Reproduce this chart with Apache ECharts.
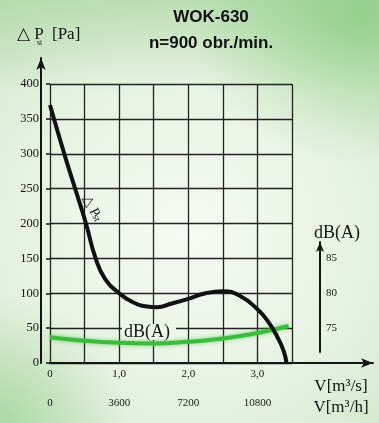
<!DOCTYPE html>
<html>
<head>
<meta charset="utf-8">
<script src="https://cdn.jsdelivr.net/npm/echarts@6/dist/echarts.min.js"></script>
<style>
  html, body { margin: 0; padding: 0; }
  body {
    width: 379px; height: 423px;
    background:
      radial-gradient(ellipse 60% 45% at 95% 5%, rgba(110,195,100,0.5), rgba(110,195,100,0) 75%),
      radial-gradient(ellipse 45% 40% at 0% 100%, rgba(120,195,110,0.45), rgba(120,195,110,0) 75%),
      linear-gradient(to bottom, rgba(150,205,140,0.45) 0%, rgba(150,205,140,0) 22%),
      radial-gradient(ellipse 80% 70% at 50% 55%, #f6faf4 0%, #e6f2e1 60%, #cfe6c9 100%);
  }
  #chart { width: 379px; height: 423px; }
</style>
</head>
<body>
<div id="chart"></div>
<script>
// pressure curve, m3/s -> Pa
const flowPa = [0, 0.2, 0.36, 0.52, 0.66, 0.8, 1.0, 1.2, 1.4, 1.55, 1.75, 2.0, 2.25, 2.5, 2.75, 3.0, 3.15, 3.29, 3.38, 3.42]
const pressure = [370, 302, 251, 200, 150, 120, 100, 87, 81, 80, 85, 92, 100, 103, 96, 77, 60, 37, 17, 0]

// noise curve, m3/s -> dB(A)
const flowDb = [0, 0.5, 1.0, 1.5, 2.0, 2.5, 3.0, 3.45]
const noise = [73.7, 73.2, 72.9, 72.8, 73.05, 73.5, 74.3, 75.3]

// tick labels
const flowSecLabels = ['0', '1,0', '2,0', '3,0']
const flowHourLabels = ['0', '3600', '7200', '10800']
const dbTicks = [75, 80, 85]

const serif = 'Liberation Serif'
const sans = 'Liberation Sans'
const ink = '#151515'

const zip = (xs, ys) => xs.map((x, i) => [x, ys[i]])

const arrowLine = { show: true, onZero: false, symbol: ['none', 'arrow'], symbolSize: [7, 12], lineStyle: { color: ink, width: 2 } }
const off = { show: false }

const chart = echarts.init(document.getElementById('chart'))
chart.setOption({
  backgroundColor: 'transparent',
  animation: false,
  grid: [
    { left: 50, top: 84, width: 242, height: 279 }, // main
    { left: 41, top: 58, width: 10, height: 305 }, // left arrow
    { left: 50, top: 84, width: 323, height: 279 }, // bottom arrow
    { left: 320, top: 242, width: 10, height: 110 } // dB arrow
  ],
  xAxis: [
    {
      gridIndex: 0, type: 'value', min: 0, max: 3.5, interval: 0.5,
      axisLine: off, axisTick: off,
      splitLine: { lineStyle: { color: '#222', width: 1.3 } },
      axisLabel: {
        customValues: [0, 1, 2, 3], formatter: v => flowSecLabels[Math.round(v)],
        margin: 6, fontFamily: serif, fontSize: 11, color: ink
      }
    },
    {
      gridIndex: 0, type: 'value', min: 0, max: 3.5, interval: 0.5, position: 'bottom', offset: 29,
      axisLine: off, axisTick: off, splitLine: off,
      axisLabel: {
        customValues: [0, 1, 2, 3], formatter: v => flowHourLabels[Math.round(v)],
        margin: 6, fontFamily: serif, fontSize: 11, color: ink
      }
    },
    { gridIndex: 1, type: 'value', show: false },
    {
      gridIndex: 2, type: 'value', min: 0, max: 1,
      axisLine: arrowLine, axisTick: off, axisLabel: off, splitLine: off
    },
    { gridIndex: 3, type: 'value', show: false }
  ],
  yAxis: [
    {
      gridIndex: 0, type: 'value', min: 0, max: 400, interval: 50, offset: 9,
      axisLine: off,
      axisTick: { show: true, length: 4, lineStyle: { color: ink, width: 1.5 } },
      splitLine: { lineStyle: { color: '#222', width: 1.3 } },
      axisLabel: { margin: 2, fontFamily: serif, fontSize: 12.5, color: ink }
    },
    {
      gridIndex: 0, type: 'value', position: 'right', min: 70, max: 110, interval: 5, offset: 28,
      axisLine: off, splitLine: off,
      axisTick: { show: true, customValues: dbTicks, length: 3, lineStyle: { color: ink, width: 1 } },
      axisLabel: { customValues: dbTicks, margin: 6, fontFamily: serif, fontSize: 11, color: ink }
    },
    {
      gridIndex: 1, type: 'value', min: 0, max: 1,
      axisLine: arrowLine, axisTick: off, axisLabel: off, splitLine: off
    },
    { gridIndex: 2, type: 'value', show: false },
    {
      gridIndex: 3, type: 'value', min: 0, max: 1,
      axisLine: { ...arrowLine, symbolSize: [6, 10] }, axisTick: off, axisLabel: off, splitLine: off
    }
  ],
  series: [
    {
      type: 'line', xAxisIndex: 0, yAxisIndex: 1, z: 4,
      data: zip(flowDb, noise), smooth: true, showSymbol: false,
      lineStyle: { color: '#3cbc3c', width: 4, shadowBlur: 4, shadowColor: 'rgba(60,200,60,0.7)' }
    },
    {
      type: 'line', xAxisIndex: 0, yAxisIndex: 0, z: 5,
      data: zip(flowPa, pressure), smooth: 0.5, showSymbol: false,
      lineStyle: { color: '#111', width: 4 }
    }
  ],
  graphic: [
    { type: 'text', x: 211, y: 17, style: { text: 'WOK-630', font: 'bold 17px ' + sans, fill: '#111', align: 'center', verticalAlign: 'middle' } },
    { type: 'text', x: 211, y: 43, style: { text: 'n=900 obr./min.', font: 'bold 17px ' + sans, fill: '#111', align: 'center', verticalAlign: 'middle' } },
    // left axis name
    { type: 'text', x: 17, y: 35, style: { text: '△ P', font: '17px ' + serif, fill: ink, verticalAlign: 'middle' } },
    { type: 'text', x: 37, y: 43, style: { text: 'st', font: '8px ' + serif, fill: ink, verticalAlign: 'middle' } },
    { type: 'text', x: 52, y: 35, style: { text: '[Pa]', font: '17px ' + serif, fill: ink, verticalAlign: 'middle' } },
    // right axis name
    { type: 'text', x: 337, y: 233, style: { text: 'dB(A)', font: '18px ' + serif, fill: ink, align: 'center', verticalAlign: 'middle' } },
    // flow units
    { type: 'text', x: 341, y: 387, style: { text: 'V[m³/s]', font: '17px ' + serif, fill: ink, align: 'center', verticalAlign: 'middle' } },
    { type: 'text', x: 341, y: 408, style: { text: 'V[m³/h]', font: '17px ' + serif, fill: ink, align: 'center', verticalAlign: 'middle' } },
    // curve labels
    {
      type: 'text', x: 91, y: 206, rotation: -1.1, z: 6,
      style: { text: '△ P', font: '14px ' + serif, fill: ink, align: 'center', verticalAlign: 'middle' }
    },
    {
      type: 'text', x: 96, y: 218, rotation: -1.1, z: 6,
      style: { text: 'st', font: '10px ' + serif, fill: ink, align: 'center', verticalAlign: 'middle' }
    },
    {
      type: 'text', x: 149, y: 332, z: 3,
      style: {
        text: 'dB(A)', font: '18px ' + serif, fill: ink, align: 'center', verticalAlign: 'middle',
        backgroundColor: '#eef6ea', padding: [0, 6, 0, 2], lineHeight: 16
      }
    }
  ]
})
</script>
</body>
</html>
